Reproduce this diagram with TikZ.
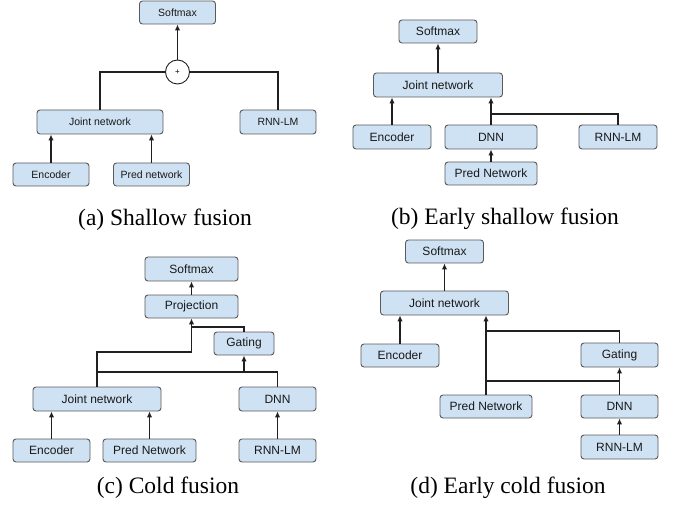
\documentclass[tikz,border=0pt]{standalone}
\usepackage{fontspec}
\setmainfont{Liberation Serif}
\setsansfont{Liberation Sans}
\newfontfamily\capfont{Liberation Serif}
\usetikzlibrary{arrows.meta}
\definecolor{boxfill}{HTML}{CFE2F3}
\definecolor{boxline}{HTML}{5A5A5A}
\definecolor{wire}{HTML}{202020}
\begin{document}
\begin{tikzpicture}[x=1pt,y=-1pt,
  bx/.style={draw=boxline,fill=boxfill,rounded corners=3pt,line width=0.9pt,inner sep=0pt,
    font=\sffamily\fontsize{12}{14}\selectfont,text=black!90},
  bxa/.style={bx,font=\sffamily\fontsize{10.5}{12}\selectfont},
  wd/.style={minimum width=#1},
  ht/.style={minimum height=#1},
  wireln/.style={draw=wire,line width=1.3pt},
  arr/.style={wireln,-{Latex[length=6pt,width=5.5pt]}},
  captext/.style={font=\capfont\fontsize{23.5}{26}\selectfont,anchor=base,inner sep=0pt,text=black}
]
\useasboundingbox (0,0) rectangle (675,505);

% ---------- (a) Shallow fusion ----------
\node[bxa,wd=76,ht=23] (sa) at (177.5,12.5) {Softmax};
\node[circle,draw=wire,line width=0.9pt,fill=white,minimum size=24pt,inner sep=0pt,font=\sffamily\fontsize{8}{9}\selectfont] (plus) at (177.5,72) {+};
\node[bxa,wd=126,ht=24] (ja) at (100,122) {Joint network};
\node[bxa,wd=76,ht=24] (ra) at (278,122) {RNN-LM};
\node[bxa,wd=76,ht=23] (ea) at (51,174.5) {Encoder};
\node[bxa,wd=76,ht=23] (pa) at (151.5,174.5) {Pred network};
\draw[arr] (plus.north) -- (sa.south);
\draw[wireln] (ja.north) |- (plus.west);
\draw[wireln] (ra.north) |- (plus.east);
\draw[arr] (ea.north) -- (ea.north |- ja.south);
\draw[arr] (pa.north) -- (pa.north |- ja.south);
\node[captext] (capa) at (165,226) {(a) Shallow fusion};

% ---------- (b) Early shallow fusion ----------
\node[bx,wd=78,ht=23] (sb) at (438,31.5) {Softmax};
\node[bx,wd=129,ht=24] (jb) at (438,85) {Joint network};
\node[bx,wd=78,ht=24] (eb) at (392,137) {Encoder};
\node[bx,wd=92,ht=24] (db) at (491,137) {DNN};
\node[bx,wd=78,ht=24] (rb) at (618,137) {RNN-LM};
\node[bx,wd=92,ht=23] (pb) at (491,173.5) {Pred Network};
\coordinate (bj) at (491,114);
\draw[arr] (jb.north) -- (sb.south);
\draw[arr] (eb.north) -- (eb.north |- jb.south);
\draw[arr] (db.north) -- (db.north |- jb.south);
\draw[wireln] (rb.north) |- (bj);
\draw[arr] (pb.north) -- (db.south);
\node[captext] (capb) at (505,225) {(b) Early shallow fusion};

% ---------- (c) Cold fusion ----------
\node[bx,wd=93,ht=24] (sc) at (191.5,269) {Softmax};
\node[bx,wd=93,ht=23] (prc) at (191.5,306.5) {Projection};
\node[bx,wd=60,ht=23] (gc) at (244,343.5) {Gating};
\node[bx,wd=128,ht=24] (jc) at (97,399) {Joint network};
\node[bx,wd=77,ht=24] (dc) at (277.5,399) {DNN};
\node[bx,wd=77,ht=23] (ec) at (51.5,450.5) {Encoder};
\node[bx,wd=93,ht=23] (pc) at (149.5,450.5) {Pred Network};
\node[bx,wd=77,ht=23] (rc) at (277.5,450.5) {RNN-LM};
\coordinate (cA) at (191.5,352);
\coordinate (cB) at (191.5,327);
\coordinate (cC) at (244,372);
\draw[arr] (prc.north) -- (sc.south);
\draw[arr] (jc.north) |- (cA) -- (prc.south);
\draw[wireln] (gc.north) |- (cB);
\draw[wireln] (jc.north |- cC) -- (dc.north |- cC) -- (dc.north);
\draw[arr] (cC) -- (gc.south);
\draw[arr] (ec.north) -- (ec.north |- jc.south);
\draw[arr] (pc.north) -- (pc.north |- jc.south);
\draw[arr] (rc.north) -- (dc.south);
\node[captext] (capc) at (168,493) {(c) Cold fusion};

% ---------- (d) Early cold fusion ----------
\node[bx,wd=78,ht=23] (sd) at (444.5,251.5) {Softmax};
\node[bx,wd=128,ht=24] (jd) at (444.5,303) {Joint network};
\node[bx,wd=78,ht=23] (ed) at (400,355.5) {Encoder};
\node[bx,wd=77,ht=24] (gd) at (619.5,355) {Gating};
\node[bx,wd=92,ht=23] (pd) at (486,406.5) {Pred Network};
\node[bx,wd=77,ht=23] (dd) at (619.5,406.5) {DNN};
\node[bx,wd=77,ht=24] (rd) at (619.5,447) {RNN-LM};
\coordinate (dA) at (486,331);
\coordinate (dB) at (486,381);
\draw[arr] (jd.north) -- (sd.south);
\draw[arr] (ed.north) -- (ed.north |- jd.south);
\draw[arr] (pd.north) -- (pd.north |- jd.south);
\draw[wireln] (gd.north) |- (dA);
\draw[wireln] (dB) -- (dd.north |- dB);
\draw[arr] (dd.north) -- (gd.south);
\draw[arr] (rd.north) -- (dd.south);
\node[captext] (capd) at (508,493) {(d) Early cold fusion};
\end{tikzpicture}
\end{document}
